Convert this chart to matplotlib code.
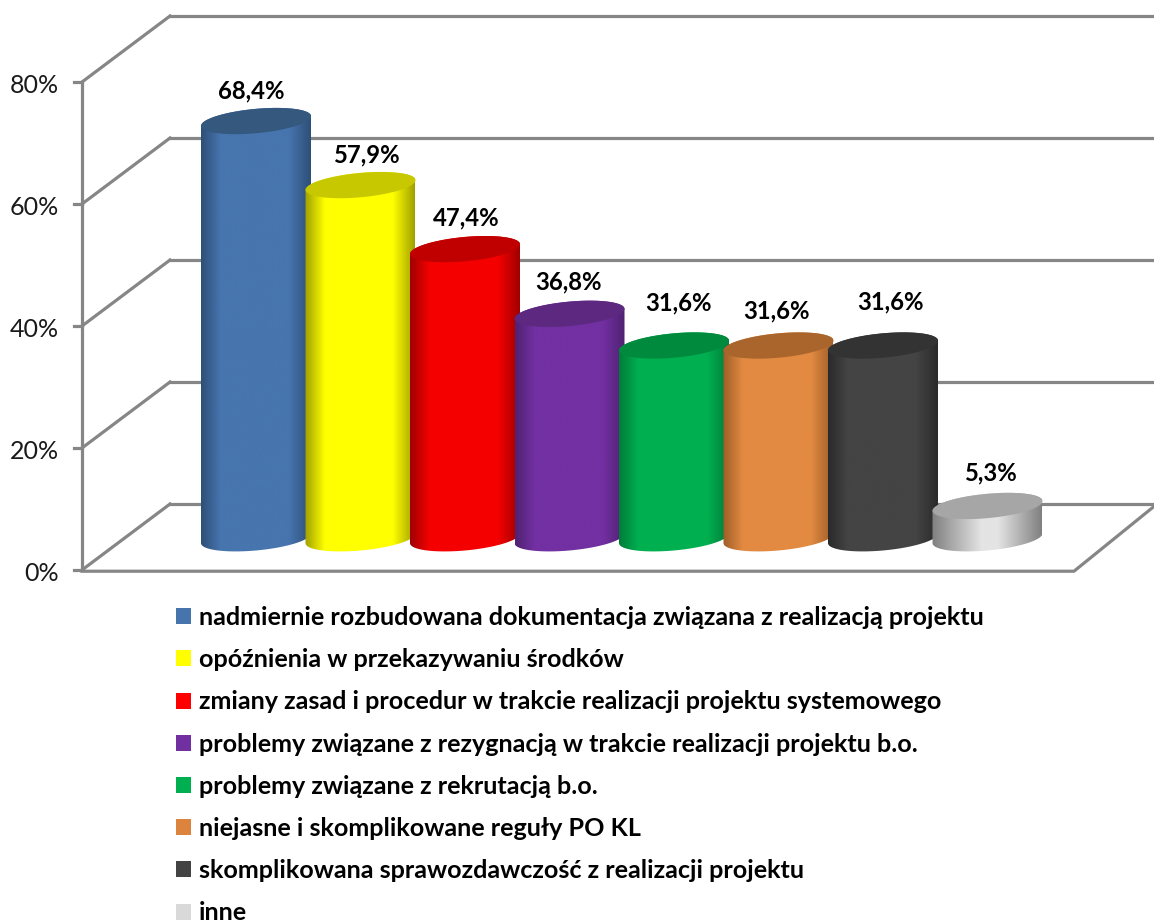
import numpy as np
from matplotlib import pyplot as plt
from matplotlib.colors import LinearSegmentedColormap
from matplotlib.patches import Patch, PathPatch
from matplotlib.path import Path

categories = [
    "nadmiernie rozbudowana dokumentacja związana z realizacją projektu",
    "opóźnienia w przekazywaniu środków",
    "zmiany zasad i procedur w trakcie realizacji projektu systemowego",
    "problemy związane z rezygnacją w trakcie realizacji projektu b.o.",
    "problemy związane z rekrutacją b.o.",
    "niejasne i skomplikowane reguły PO KL",
    "skomplikowana sprawozdawczość z realizacji projektu",
    "inne",
]
values = [68.4, 57.9, 47.4, 36.8, 31.6, 31.6, 31.6, 5.3]
y_ticks = [0, 20, 40, 60, 80]

body_colors = ["#4775AE", "#FFFF00", "#F50000", "#7230A2", "#00B050", "#E38A42", "#444444", "#E4E4E4"]
edge_colors = ["#2E4F78", "#A0A000", "#A00000", "#4F2272", "#007D39", "#9E5E28", "#2A2A2A", "#808080"]
top_colors = ["#35587F", "#C8C800", "#C00000", "#5C2880", "#008A3E", "#A9652C", "#333333", "#A6A6A6"]
legend_colors = ["#4674AD", "#FFFF00", "#FF0000", "#7030A0", "#00B050", "#DC843E", "#434343", "#D9D9D9"]
# where the shading reaches the body colour, left and right
fade_in = [0.18, 0.18, 0.18, 0.18, 0.18, 0.18, 0.18, 0.45]
fade_out = [0.8, 0.8, 0.8, 0.8, 0.8, 0.8, 0.8, 0.6]

grid_color = "#868686"
FONT = "Lato"

# scale: one category = 104.5 px, one percent = 6.1 px
px_x = 104.5
px_y = 6.1
W, H = 1154, 921
x0, y0 = 256, 570  # pixel of category 0 top centre / 0%

fig = plt.figure(figsize=(W / 100, H / 100), dpi=100)
ax = fig.add_axes([0, 0, 1, 1])
ax.set_xlim(-x0 / px_x, (W - x0) / px_x)
ax.set_ylim((y0 - H) / px_y, y0 / px_y)
ax.axis("off")

# walls, offsets for the 3d look
depth_x = 88 / px_x
depth_y = 66 / px_y
wall_x = (82 - x0) / px_x
right_x = (1074 - x0) / px_x
end_x = (W - x0) / px_x
lw = 2.3
for t in y_ticks:
    ax.plot([wall_x, wall_x + depth_x], [t, t + depth_y], color=grid_color, lw=lw, zorder=1)
    ax.plot([wall_x + depth_x, end_x], [t + depth_y, t + depth_y], color=grid_color, lw=lw, zorder=1)
    ax.plot([wall_x - 8 / px_x, wall_x], [t, t], color=grid_color, lw=lw, zorder=1)
    ax.text(wall_x - 23 / px_x, t - 3 / px_y, f"{t}%", ha="right", va="center", family=FONT, fontsize=18, color="#1a1a1a")
ax.plot([wall_x, wall_x], [0, y_ticks[-1]], color=grid_color, lw=lw, zorder=1)
ax.plot([wall_x, right_x, end_x], [-0.2, -0.2, depth_y - 0.4], color=grid_color, lw=lw, zorder=1)


def ring(cx, cy, a, t):
    return np.column_stack([cx + a * np.cos(t), cy + 0.8 * np.cos(t) + 2.0 * np.sin(t)])


base_y = 5.2
half = 55 / px_x
label_dx = [-4.5, 6, 1, -1, 4, -2, 7, 3]
label_dy = [0, 0, 1, 2, 13, 5, 14, 3]

for i, v in enumerate(values):
    z = 3 + i
    cmap = LinearSegmentedColormap.from_list(
        f"c{i}", [(0, edge_colors[i]), (fade_in[i], body_colors[i]), (fade_out[i], body_colors[i]), (1, edge_colors[i])]
    )
    grad = np.linspace(0, 1, 256).reshape(1, -1)
    im = ax.imshow(grad, cmap=cmap, aspect="auto", extent=[i - half, i + half, base_y - 5, base_y + v + 5], zorder=z)

    outline = np.vstack([ring(i, base_y + v, half, np.linspace(0, np.pi, 60)),
                         ring(i, base_y, half, np.linspace(np.pi, 2 * np.pi, 60))])
    outline = np.vstack([outline, outline[:1]])
    clip = PathPatch(Path(outline), transform=ax.transData, fc="none", ec="none")
    ax.add_patch(clip)
    im.set_clip_path(clip)

    cap = ring(i, base_y + v, half, np.linspace(0, 2 * np.pi, 120))
    ax.fill(cap[:, 0], cap[:, 1], color=top_colors[i], lw=0, zorder=z)

    ax.text(i + label_dx[i] / px_x, base_y + v + (30 + label_dy[i]) / px_y, f"{v:.1f}%".replace(".", ","),
            ha="center", va="center", family=FONT, fontsize=17.2, fontweight="bold", color="black", zorder=20)

ax.set_xlim(-x0 / px_x, (W - x0) / px_x)
ax.set_ylim((y0 - H) / px_y, y0 / px_y)

handles = [Patch(color=c, lw=0) for c in legend_colors]
fs = 18.1
ax.legend(handles, categories, loc="upper left", bbox_to_anchor=(176.5 / W, 1 - 606 / H),
          frameon=False, borderpad=0, borderaxespad=0, handlelength=10.8 / fs, handleheight=10.8 / fs,
          handletextpad=0.3, labelspacing=0.764, prop={"family": FONT, "weight": "bold", "size": fs},
          labelcolor="black")

fig.savefig("out.png", dpi=100)
